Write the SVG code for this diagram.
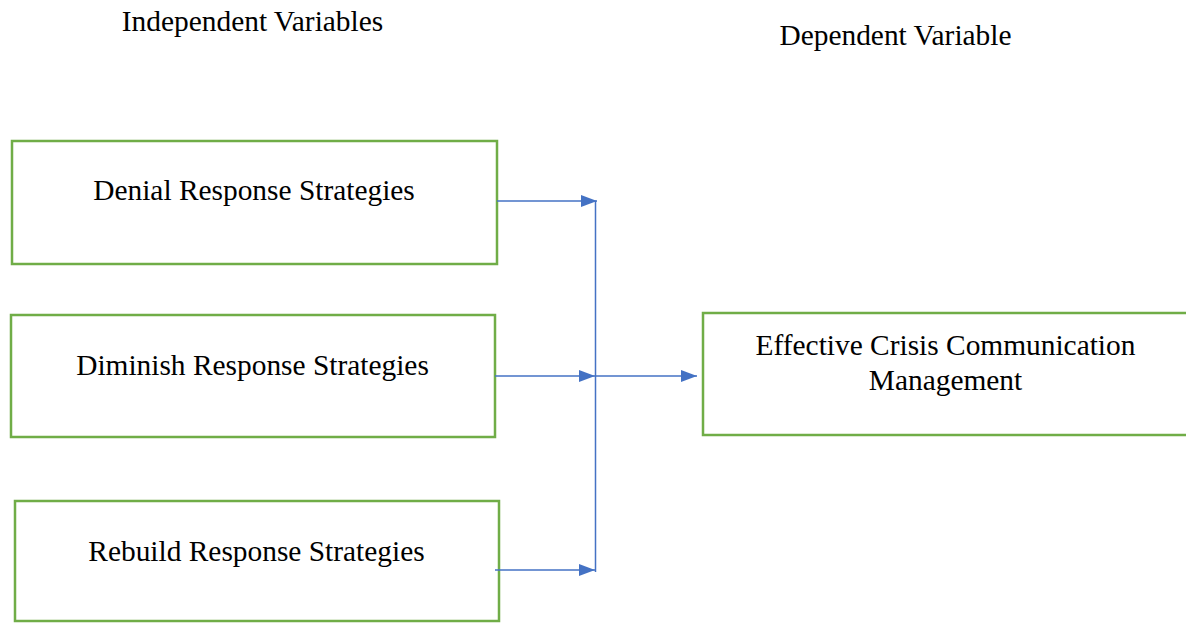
<svg xmlns="http://www.w3.org/2000/svg" width="1186" height="623" viewBox="0 0 1186 623">
<style>
.box{fill:#fff;stroke:#70AD47;stroke-width:2.5}
.t{font-family:"Liberation Serif","Times New Roman",serif;font-size:29.4px;fill:#000;text-anchor:middle}
.c{stroke:#4472C4;stroke-width:1.5;fill:none}
</style>
<defs>
<marker id="ah" markerWidth="16" markerHeight="12" refX="16" refY="6" orient="auto" markerUnits="userSpaceOnUse">
<path d="M0,0 L16,6 L0,12 Z" fill="#4472C4"/>
</marker>
</defs>
<rect width="1186" height="623" fill="#fff"/>
<text class="t" x="252.5" y="31">Independent Variables</text>
<text class="t" x="895.5" y="45">Dependent Variable</text>
<g id="n1"><rect class="box" x="12" y="141" width="485" height="123"/><text class="t" x="254" y="200">Denial Response Strategies</text></g>
<g id="n2"><rect class="box" x="11" y="315" width="484" height="122"/><text class="t" x="252.5" y="375">Diminish Response Strategies</text></g>
<g id="n3"><rect class="box" x="15" y="501" width="484" height="120"/><text class="t" x="256.5" y="561">Rebuild Response Strategies</text></g>
<g id="n4"><rect class="box" x="703" y="313" width="490" height="122"/><text class="t" x="945.5" y="355">Effective Crisis Communication</text><text class="t" x="945.5" y="390">Management</text></g>
<g id="connectors">
<line class="c" x1="497" y1="201" x2="597" y2="201" marker-end="url(#ah)"/>
<line class="c" x1="495" y1="376" x2="595" y2="376" marker-end="url(#ah)"/>
<line class="c" x1="495" y1="570" x2="595" y2="570" marker-end="url(#ah)"/>
<line class="c" x1="595.5" y1="201" x2="595.5" y2="572"/>
<line class="c" x1="596" y1="376" x2="697" y2="376" marker-end="url(#ah)"/>
</g>
</svg>
